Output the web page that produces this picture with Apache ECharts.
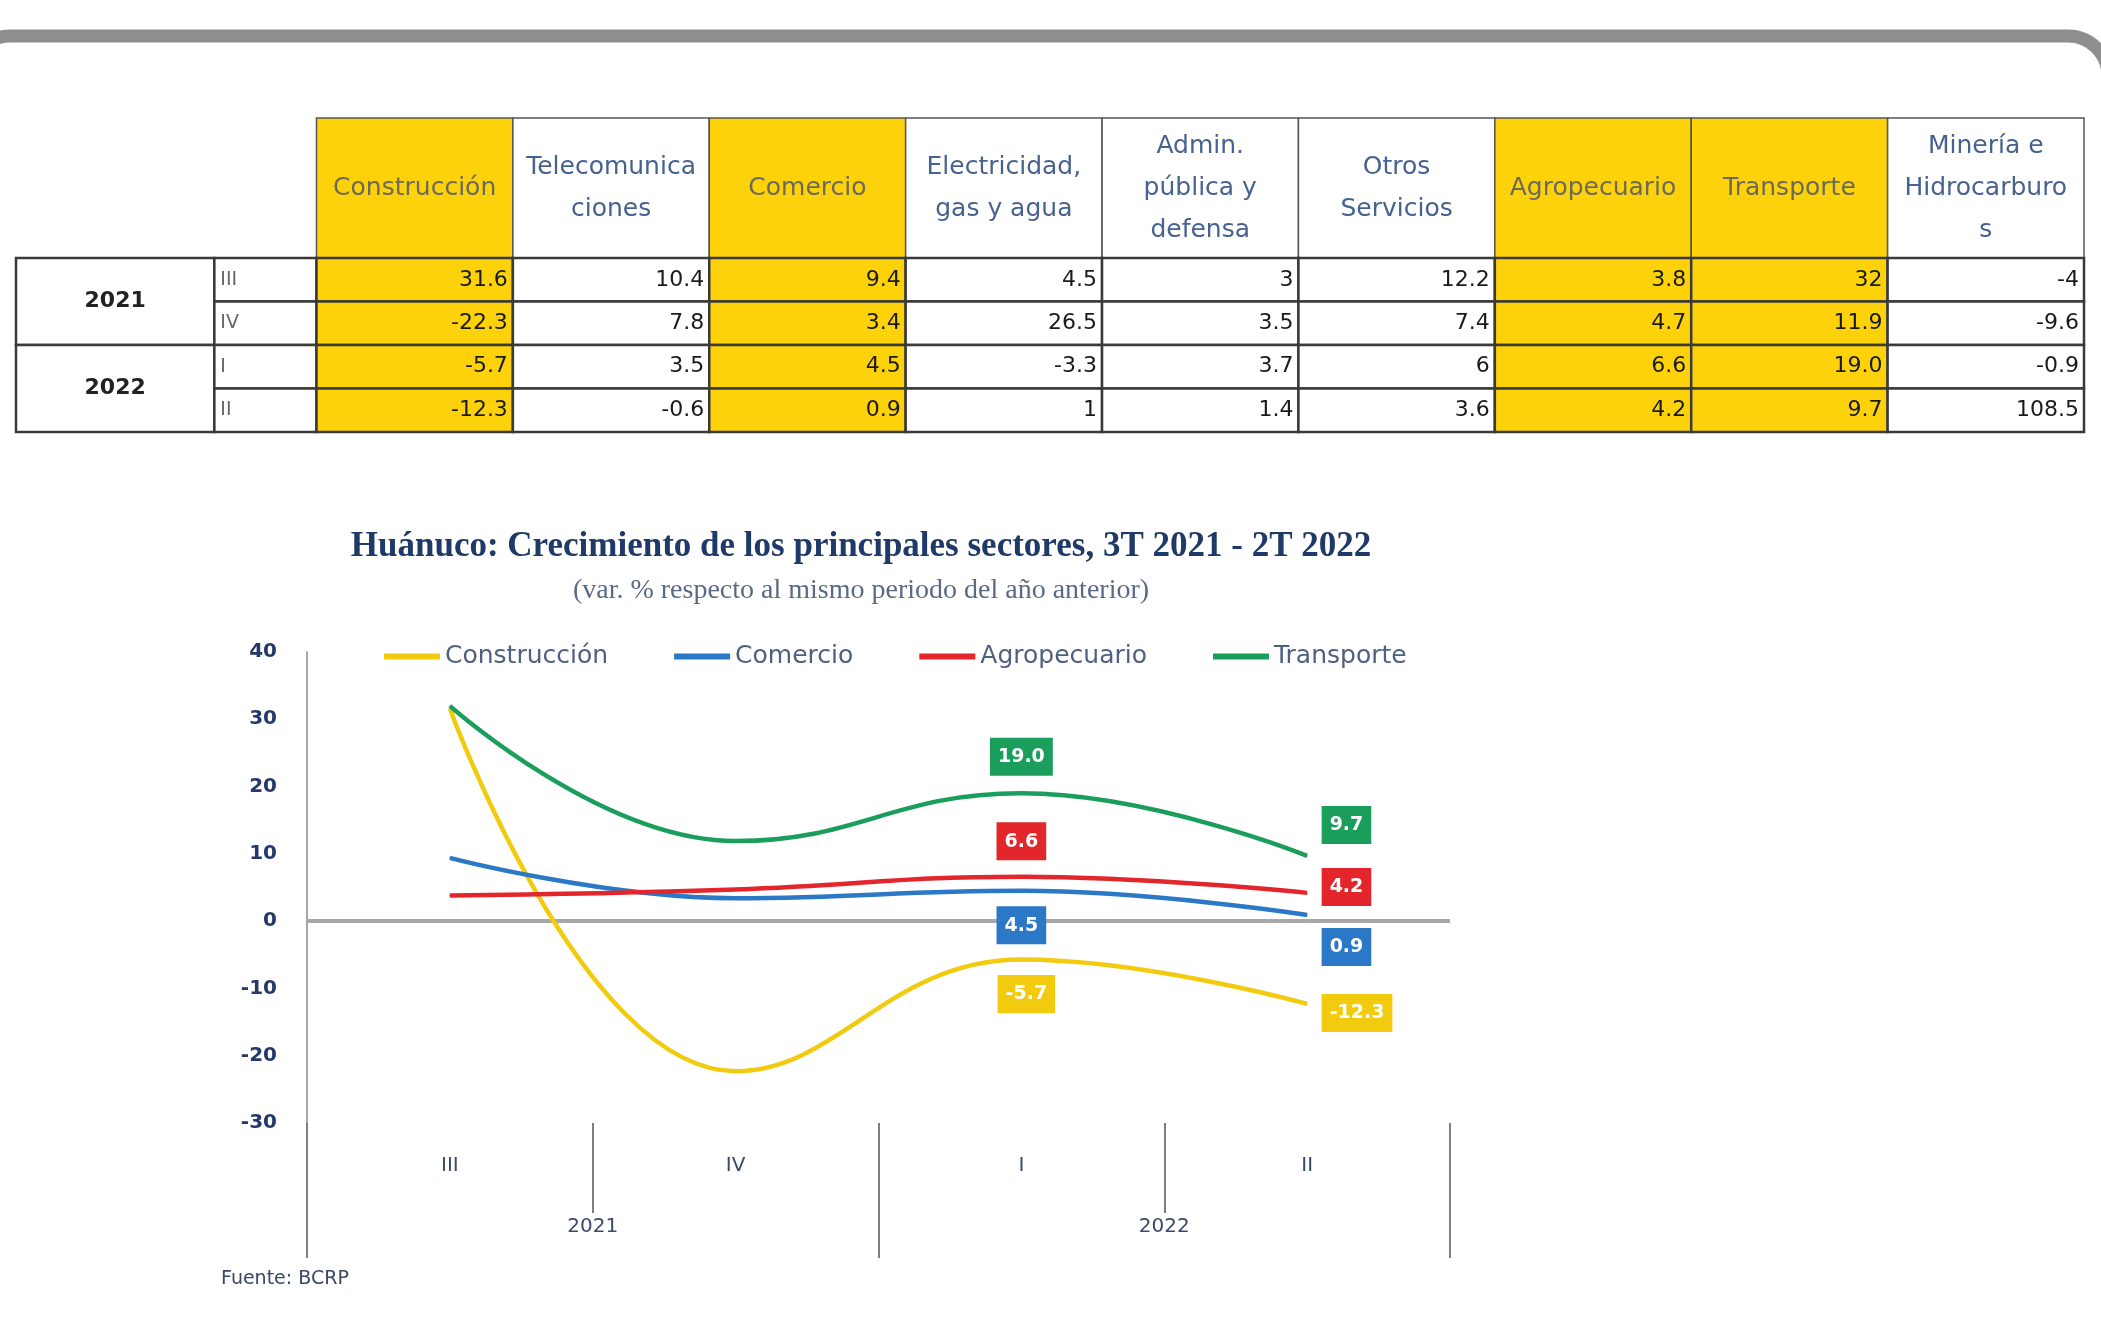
<!DOCTYPE html>
<html>
<head>
<meta charset="utf-8">
<title>Huánuco: Crecimiento de los principales sectores</title>
<script src="https://cdn.jsdelivr.net/npm/echarts@6/dist/echarts.min.js"></script>
<style>
  html, body { margin: 0; padding: 0; background: #fff; }
  #main { width: 2101px; height: 1330px; }
</style>
</head>
<body>
<div id="main"></div>
<script>
// datos de la tabla
var sectores = ['Construcción', 'Telecomunica\nciones', 'Comercio', 'Electricidad,\ngas y agua',
  'Admin.\npública y\ndefensa', 'Otros\nServicios', 'Agropecuario', 'Transporte', 'Minería e\nHidrocarburo\ns'];
var anios = ['2021', '2022'];
var trimestres = ['III', 'IV', 'I', 'II'];
var filaIII_2021 = ['31.6', '10.4', '9.4', '4.5', '3', '12.2', '3.8', '32', '-4'];
var filaIV_2021 = ['-22.3', '7.8', '3.4', '26.5', '3.5', '7.4', '4.7', '11.9', '-9.6'];
var filaI_2022 = ['-5.7', '3.5', '4.5', '-3.3', '3.7', '6', '6.6', '19.0', '-0.9'];
var filaII_2022 = ['-12.3', '-0.6', '0.9', '1', '1.4', '3.6', '4.2', '9.7', '108.5'];

// datos del grafico
var series = ['Construcción', 'Comercio', 'Agropecuario', 'Transporte'];
var construccion = [31.6, -22.3, -5.7, -12.3];
var comercio = [9.4, 3.4, 4.5, 0.9];
var agropecuario = [3.8, 4.7, 6.6, 4.2];
var transporte = [32, 11.9, 19.0, 9.7];

(function () {
  tabla_y_grafico();
})();

function tabla_y_grafico() {
  var myChart = echarts.init(document.getElementById('main'));
  var FONT = 'DejaVu Sans';
  var AMARILLO = '#fdd20a';
  var colAmarillas = [0, 2, 6, 7];
  var colores = ['#f2cb0e', '#2a78c6', '#e2262b', '#1b9e5c'];
  var HDR = 3.22; // alto de la cabecera en filas

  // celdas de la tabla: [x0, x1, y0, y1] + estilo en array paralelo
  var filas = [filaIII_2021, filaIV_2021, filaI_2022, filaII_2022];
  var celdas = [];
  var info = [];
  sectores.forEach(function (s, i) {
    celdas.push([i, i + 1, 0, HDR]);
    info.push({ text: s, kind: 'hdr', yellow: colAmarillas.indexOf(i) >= 0 });
  });
  anios.forEach(function (a, k) {
    celdas.push([-1.53, -0.52, HDR + 2 * k, HDR + 2 * k + 2]);
    info.push({ text: a, kind: 'year' });
  });
  trimestres.forEach(function (q, r) {
    celdas.push([-0.52, 0, HDR + r, HDR + r + 1]);
    info.push({ text: q, kind: 'qtr' });
  });
  filas.forEach(function (fila, r) {
    fila.forEach(function (v, i) {
      celdas.push([i, i + 1, HDR + r, HDR + r + 1]);
      info.push({ text: v, kind: 'val', yellow: colAmarillas.indexOf(i) >= 0 });
    });
  });

  function renderCelda(params, api) {
    var c = info[params.dataIndex];
    var p0 = api.coord([api.value(0), api.value(2)]);
    var p1 = api.coord([api.value(1), api.value(3)]);
    var w = p1[0] - p0[0], h = p1[1] - p0[1];
    var fill = c.yellow ? AMARILLO : '#fff';
    var txt;
    if (c.kind === 'hdr') {
      txt = { x: p0[0] + w / 2, y: p0[1] + h / 2, style: { text: c.text, fill: c.yellow ? '#6b6a58' : '#47628f',
        font: '25px ' + FONT, align: 'center', verticalAlign: 'middle', lineHeight: 42 } };
    } else if (c.kind === 'year') {
      txt = { x: p0[0] + w / 2, y: p0[1] + h / 2, style: { text: c.text, fill: '#222',
        font: 'bold 22px ' + FONT, align: 'center', verticalAlign: 'middle' } };
    } else if (c.kind === 'qtr') {
      txt = { x: p0[0] + 6, y: p0[1] + h / 2, style: { text: c.text, fill: '#666',
        font: '19px ' + FONT, align: 'left', verticalAlign: 'middle' } };
    } else {
      txt = { x: p1[0] - 5, y: p0[1] + h / 2, style: { text: c.text, fill: '#1a1a1a',
        font: '22px ' + FONT, align: 'right', verticalAlign: 'middle' } };
    }
    txt.type = 'text';
    return {
      type: 'group',
      children: [
        { type: 'rect', shape: { x: p0[0], y: p0[1], width: w, height: h },
          style: { fill: fill, stroke: c.kind === 'hdr' ? '#555' : '#3a3a3a', lineWidth: c.kind === 'hdr' ? 1.5 : 2.5 } },
        txt
      ]
    };
  }

  function etiquetas(idx) {
    // posiciones de las etiquetas en I y II
    var pos = [
      [{ position: 'bottom', distance: 15, offset: [5, 0] }, { position: 'right', distance: 14, offset: [0, 9] }],
      [{ position: 'bottom', distance: 15 }, { position: 'right', distance: 14, offset: [0, 32] }],
      [{ position: 'top', distance: 16 }, { position: 'right', distance: 14, offset: [0, -6] }],
      [{ position: 'top', distance: 17 }, { position: 'right', distance: 14, offset: [0, -31] }]
    ];
    return pos[idx];
  }

  function serieLinea(name, valores, idx) {
    var lab = etiquetas(idx);
    var data = valores.map(function (v, i) {
      if (i < 2) return { value: v };
      return { value: v, label: Object.assign({ show: true }, lab[i - 2]) };
    });
    var s = {
      name: name,
      type: 'line',
      xAxisIndex: 1,
      yAxisIndex: 1,
      smooth: 0.45,
      symbol: 'circle',
      symbolSize: 1,
      data: data,
      z: 3 + idx,
      lineStyle: { color: colores[idx], width: 4.5 },
      itemStyle: { color: colores[idx] },
      label: {
        show: false,
        color: '#fff',
        fontFamily: FONT,
        fontWeight: 'bold',
        fontSize: 19,
        backgroundColor: colores[idx],
        padding: [10, 8, 9, 8],
        formatter: function (p) { return p.value.toFixed(1); }
      }
    };
    if (idx === 0) {
      s.markLine = {
        silent: true,
        symbol: 'none',
        label: { show: false },
        z: 2,
        lineStyle: { color: '#a8a8a8', width: 4, type: 'solid' },
        data: [{ yAxis: 0 }]
      };
    }
    return s;
  }

  var option = {
    backgroundColor: '#fff',
    animation: false,
    title: [
      {
        text: 'Huánuco: Crecimiento de los principales sectores, 3T 2021 - 2T 2022',
        left: 856, top: 524, textAlign: 'center',
        textStyle: { fontFamily: 'Liberation Serif', fontWeight: 'bold', fontSize: 35, color: '#1f3a68' }
      },
      {
        text: '(var. % respecto al mismo periodo del año anterior)',
        left: 856, top: 572, textAlign: 'center',
        textStyle: { fontFamily: 'Liberation Serif', fontWeight: 'normal', fontSize: 28, color: '#5a6a86' }
      },
      {
        text: 'Fuente: BCRP',
        left: 216, top: 1265,
        textStyle: { fontFamily: FONT, fontWeight: 'normal', fontSize: 19, color: '#3a4866' }
      }
    ],
    legend: {
      data: series,
      left: 379,
      top: 639,
      icon: 'rect',
      itemWidth: 56,
      itemHeight: 6,
      itemGap: 66,
      textStyle: { fontFamily: FONT, fontSize: 25, color: '#50607f' }
    },
    grid: [
      { left: 16, top: 118, width: 2068, height: 314 },
      { left: 307, top: 652, width: 1143, height: 471 }
    ],
    xAxis: [
      { gridIndex: 0, type: 'value', min: -1.53, max: 9, show: false },
      {
        gridIndex: 1, type: 'category', data: trimestres, position: 'bottom',
        axisLine: { show: false, onZero: false },
        axisTick: { show: true, length: 90, lineStyle: { color: '#555', width: 1.5 } },
        axisLabel: { margin: 33, fontFamily: FONT, fontSize: 20, color: '#3a4a6a' }
      },
      {
        gridIndex: 1, type: 'category', data: anios, position: 'bottom',
        axisLine: { show: false, onZero: false },
        axisTick: { show: true, length: 135, lineStyle: { color: '#555', width: 1.5 } },
        axisLabel: { margin: 94, fontFamily: FONT, fontSize: 20, color: '#3a4a6a' }
      }
    ],
    yAxis: [
      { gridIndex: 0, type: 'value', inverse: true, min: 0, max: HDR + 4, show: false },
      {
        gridIndex: 1, type: 'value', min: -30, max: 40, interval: 10,
        axisLine: { show: true, lineStyle: { color: '#8a8a8a', width: 1.5 } },
        axisTick: { show: false },
        splitLine: { show: false },
        axisLabel: { margin: 30, fontFamily: FONT, fontWeight: 'bold', fontSize: 20, color: '#24396a' }
      }
    ],
    graphic: [
      {
        type: 'rect', silent: true, z: 100,
        shape: { x: -30, y: 36, width: 2138, height: 1400, r: 40 },
        style: { fill: 'none', stroke: '#8e8e8e', lineWidth: 13 }
      }
    ],
    series: [
      {
        name: 'tabla',
        type: 'custom',
        xAxisIndex: 0,
        yAxisIndex: 0,
        clip: false,
        renderItem: renderCelda,
        data: celdas
      },
      serieLinea('Construcción', construccion, 0),
      serieLinea('Comercio', comercio, 1),
      serieLinea('Agropecuario', agropecuario, 2),
      serieLinea('Transporte', transporte, 3)
    ]
  };
  myChart.setOption(option);
  window.addEventListener('resize', function () {
    myChart.resize();
  });
}
</script>
</body>
</html>
